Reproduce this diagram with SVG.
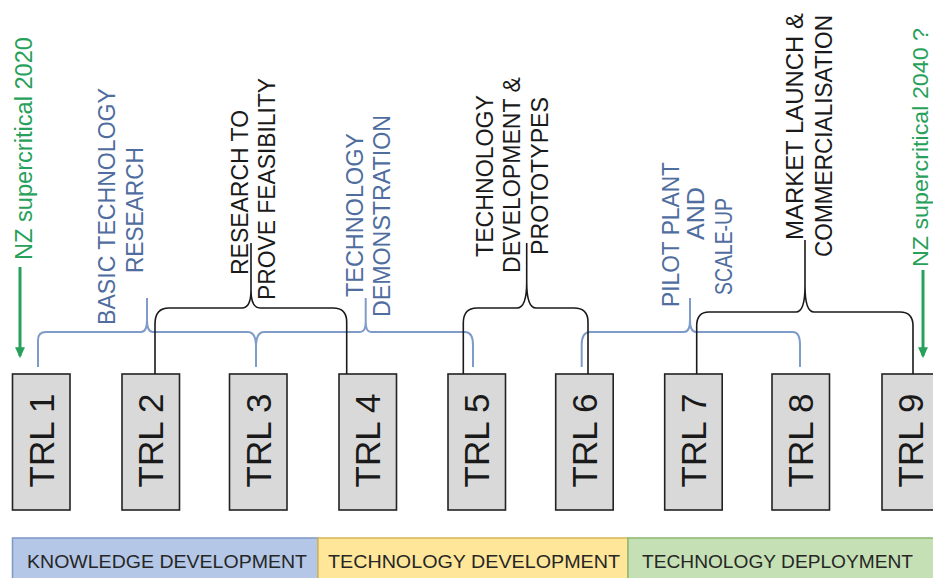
<svg xmlns="http://www.w3.org/2000/svg" width="933" height="578" viewBox="0 0 933 578">
  <style>
    .box { fill: #d9d9d9; stroke: #222; stroke-width: 1.6; }
    .trl { font-family: "Liberation Sans", Arial, sans-serif; font-size: 35px; fill: #1a1a1a; text-anchor: middle; }
    .lbl { font-family: "Liberation Sans", Arial, sans-serif; font-size: 23px; text-anchor: middle; }
    .blue { fill: #4f6d9e; }
    .black { fill: #1a1a1a; }
    .green { fill: #27a05a; }
    .band-t { font-family: "Liberation Sans", Arial, sans-serif; font-size: 18.5px; fill: #262626; }
    .brace-b { fill: none; stroke: #1a1a1a; stroke-width: 1.6; }
    .brace-l { fill: none; stroke: #7f9bc9; stroke-width: 2; }
    .arrow { fill: none; stroke: #27a05a; stroke-width: 3; }
  </style>
  <defs>
    <marker id="ga" viewBox="0 0 10 10" refX="8" refY="5" markerWidth="11" markerHeight="11" markerUnits="userSpaceOnUse" orient="auto">
      <path d="M0,0.5 L10,5 L0,9.5 z" fill="#27a05a"/>
    </marker>
  </defs>

  <rect width="933" height="578" fill="#fff"/>

  <!-- phase bands -->
  <g id="band-knowledge">
    <rect x="12.5" y="538" width="305.5" height="50" fill="#b4c7e7" stroke="#7c98c8" stroke-width="1.5"/>
    <text class="band-t" x="27" y="568" textLength="280" lengthAdjust="spacingAndGlyphs">KNOWLEDGE DEVELOPMENT</text>
  </g>
  <g id="band-techdev">
    <rect x="318" y="538" width="310" height="50" fill="#ffe699" stroke="#d6b656" stroke-width="1.5"/>
    <text class="band-t" x="328" y="568" textLength="292" lengthAdjust="spacingAndGlyphs">TECHNOLOGY DEVELOPMENT</text>
  </g>
  <g id="band-deploy">
    <rect x="628" y="538" width="320" height="50" fill="#c5e0b4" stroke="#8db870" stroke-width="1.5"/>
    <text class="band-t" x="642" y="568" textLength="271" lengthAdjust="spacingAndGlyphs">TECHNOLOGY DEPLOYMENT</text>
  </g>

  <!-- TRL boxes -->
  <g id="trl1"><rect class="box" x="12.5" y="374" width="57.5" height="136"/><text class="trl" transform="translate(53.5,440.5) rotate(-90)">TRL 1</text></g>
  <g id="trl2"><rect class="box" x="122" y="374" width="57.5" height="136"/><text class="trl" transform="translate(163,440.5) rotate(-90)">TRL 2</text></g>
  <g id="trl3"><rect class="box" x="229.5" y="374" width="57.5" height="136"/><text class="trl" transform="translate(270.5,440.5) rotate(-90)">TRL 3</text></g>
  <g id="trl4"><rect class="box" x="339" y="374" width="57.5" height="136"/><text class="trl" transform="translate(380,440.5) rotate(-90)">TRL 4</text></g>
  <g id="trl5"><rect class="box" x="448" y="374" width="57.5" height="136"/><text class="trl" transform="translate(489,440.5) rotate(-90)">TRL 5</text></g>
  <g id="trl6"><rect class="box" x="555.7" y="374" width="57.5" height="136"/><text class="trl" transform="translate(596.7,440.5) rotate(-90)">TRL 6</text></g>
  <g id="trl7"><rect class="box" x="664.7" y="374" width="57.5" height="136"/><text class="trl" transform="translate(705.7,440.5) rotate(-90)">TRL 7</text></g>
  <g id="trl8"><rect class="box" x="772" y="374" width="57.5" height="136"/><text class="trl" transform="translate(813,440.5) rotate(-90)">TRL 8</text></g>
  <g id="trl9"><rect class="box" x="882" y="374" width="57.5" height="136"/><text class="trl" transform="translate(923,440.5) rotate(-90)">TRL 9</text></g>

  <!-- stage labels -->
  <g id="lbl-basic" class="lbl blue">
    <text transform="translate(115,206.5) rotate(-90)" textLength="237" lengthAdjust="spacingAndGlyphs">BASIC TECHNOLOGY</text>
    <text transform="translate(143,210) rotate(-90)" textLength="126" lengthAdjust="spacingAndGlyphs">RESEARCH</text>
  </g>
  <g id="lbl-feasibility" class="lbl black">
    <text transform="translate(248,192.5) rotate(-90)" textLength="165" lengthAdjust="spacingAndGlyphs">RESEARCH TO</text>
    <text transform="translate(275,189) rotate(-90)" textLength="222" lengthAdjust="spacingAndGlyphs">PROVE FEASIBILITY</text>
  </g>
  <g id="lbl-demo" class="lbl blue">
    <text transform="translate(363,215) rotate(-90)" textLength="164" lengthAdjust="spacingAndGlyphs">TECHNOLOGY</text>
    <text transform="translate(390,216) rotate(-90)" textLength="202" lengthAdjust="spacingAndGlyphs">DEMONSTRATION</text>
  </g>
  <g id="lbl-prototypes" class="lbl black">
    <text transform="translate(493,176) rotate(-90)" textLength="162" lengthAdjust="spacingAndGlyphs">TECHNOLOGY</text>
    <text transform="translate(520,175) rotate(-90)" textLength="196" lengthAdjust="spacingAndGlyphs">DEVELOPMENT &amp;</text>
    <text transform="translate(548,176) rotate(-90)" textLength="158" lengthAdjust="spacingAndGlyphs">PROTOTYPES</text>
  </g>
  <g id="lbl-pilot" class="lbl blue">
    <text transform="translate(679,234.5) rotate(-90)" textLength="145" lengthAdjust="spacingAndGlyphs">PILOT PLANT</text>
    <text transform="translate(704,213.5) rotate(-90)" textLength="53" lengthAdjust="spacingAndGlyphs">AND</text>
    <text transform="translate(732,246.5) rotate(-90)" textLength="97" lengthAdjust="spacingAndGlyphs">SCALE-UP</text>
  </g>
  <g id="lbl-market" class="lbl black">
    <text transform="translate(803,126.5) rotate(-90)" textLength="227" lengthAdjust="spacingAndGlyphs">MARKET LAUNCH &amp;</text>
    <text transform="translate(832,136) rotate(-90)" textLength="242" lengthAdjust="spacingAndGlyphs">COMMERCIALISATION</text>
  </g>
  <g id="lbl-nz2020" class="lbl green">
    <text transform="translate(32,148.5) rotate(-90)" textLength="223" lengthAdjust="spacingAndGlyphs">NZ supercritical 2020</text>
  </g>
  <g id="lbl-nz2040" class="lbl green">
    <text transform="translate(928,147.5) rotate(-90)" font-size="21.5" textLength="239" lengthAdjust="spacingAndGlyphs">NZ supercritical 2040 ?</text>
  </g>

  <!-- connectors: braces and timeline arrows -->
  <g id="connectors">
    <path class="brace-l" d="M38,367 V340 Q38,332 46,332 H141 Q147,332 147,320 V298 M147,320 Q147,332 153,332 H248 Q256,332 256,347 V367 M256,347 Q256,332 264,332 H360 Q365.7,332 365.7,322 V298 M365.7,322 Q365.7,332 371,332 H465 Q473,332 473,345 V367"/>
    <path class="brace-l" d="M581.7,367 V345 Q581.7,332 590,332 H684 Q690,332 690,320 V298 M690,320 Q690,332 696,332 H793 Q800,332 800,345 V367"/>
    <path class="brace-b" d="M155,374 V324 Q155,308 169,308 H242 Q251,308 251,290 V243 M251,290 Q251,308 260,308 H333 Q346.7,308 346.7,322 V374"/>
    <path class="brace-b" d="M463.3,374 V323 Q463.3,308 477,308 H517 Q526.7,308 526.7,282 V243 M526.7,282 Q526.7,308 536,308 H574 Q588,308 588,322 V374"/>
    <path class="brace-b" d="M696.7,374 V326 Q696.7,312 709,312 H796 Q805,312 805,286 V240 M805,286 Q805,312 814,312 H900 Q913,312 913,326 V374"/>
    <path class="arrow" d="M20,267 V356" marker-end="url(#ga)"/>
    <path class="arrow" d="M923,270 V356" marker-end="url(#ga)"/>
  </g>
</svg>
